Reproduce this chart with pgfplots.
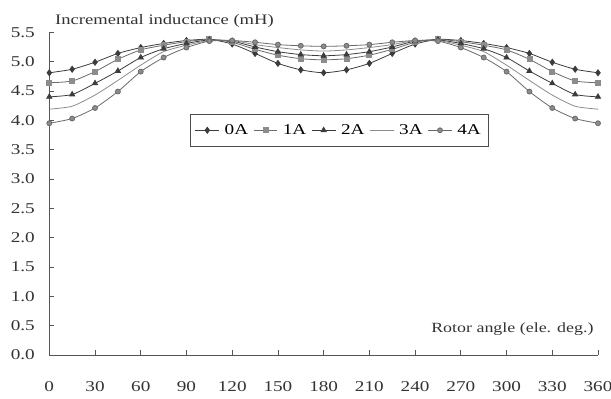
\documentclass[border=0pt]{standalone}
\usepackage{pgfplots}
\pgfplotsset{compat=1.18}
\usepackage{pgfplotstable}
\usepackage{fontspec}
\setmainfont{Liberation Serif}[FakeStretch=1.28]
\definecolor{dk}{HTML}{3C3C3C}
\definecolor{md}{HTML}{6A6A6A}
\definecolor{lt}{HTML}{8C8C8C}
\definecolor{axc}{HTML}{555555}
\pgfplotstableread{
ang  a0   a1   a2   a3   a4
0    4.81 4.64 4.40 4.19 3.95
15   4.87 4.67 4.44 4.24 4.03
30   4.99 4.83 4.63 4.43 4.21
45   5.14 5.04 4.84 4.68 4.49
60   5.24 5.20 5.07 4.94 4.83
75   5.31 5.28 5.22 5.17 5.07
90   5.36 5.34 5.31 5.28 5.24
105  5.38 5.38 5.37 5.36 5.35
120  5.30 5.33 5.35 5.36 5.36
135  5.14 5.21 5.25 5.29 5.33
150  4.97 5.11 5.17 5.24 5.29
165  4.86 5.05 5.12 5.20 5.27
180  4.81 5.03 5.10 5.18 5.26
195  4.86 5.05 5.12 5.20 5.27
210  4.97 5.11 5.17 5.24 5.29
225  5.14 5.21 5.25 5.29 5.33
240  5.30 5.33 5.35 5.36 5.36
255  5.38 5.38 5.37 5.36 5.35
270  5.36 5.34 5.31 5.28 5.24
285  5.31 5.28 5.22 5.17 5.07
300  5.24 5.20 5.07 4.94 4.83
315  5.14 5.04 4.84 4.68 4.49
330  4.99 4.83 4.63 4.43 4.21
345  4.87 4.67 4.44 4.24 4.03
360  4.81 4.64 4.40 4.19 3.95
}\data
\begin{document}
\begin{tikzpicture}
\begin{axis}[
  scale only axis,
  width=548.7pt, height=322.7pt,
  xmin=0, xmax=360, ymin=0, ymax=5.5,
  axis lines*=left,
  axis line style={axc, line width=0.8pt},
  xtick={0,30,...,360},
  ytick={0,0.5,...,5.5},
  yticklabel style={/pgf/number format/fixed,/pgf/number format/fixed zerofill,/pgf/number format/precision=1, xshift=-11pt},
  xticklabel style={yshift=-23pt},
  /pgf/number format/assume math mode=true,
  tick align=inside,
  major tick length=5pt,
  tick style={axc, line width=0.7pt},
  ticklabel style={font=\fontsize{15}{17}\selectfont, text=black!80},
  clip=false,
  legend style={at={(axis cs:190,3.83)}, anchor=center, draw=black!70, line width=0.6pt, fill=white,
    font=\fontsize{15}{17}\selectfont, column sep=3pt, inner xsep=5pt, inner ysep=8pt},
  legend columns=5,
  legend image code/.code={\draw[mark repeat=2,mark phase=2] plot coordinates {(0cm,0cm) (0.42cm,0cm) (0.84cm,0cm)};},
  every axis plot/.append style={smooth, tension=0.4, line width=0.8pt},
]
\addplot[dk, mark=diamond*, mark size=3pt, mark options={fill=dk}] table[x=ang,y=a0]{\data};
\addlegendentry{0A}
\addplot[md, mark=square*, mark size=2.5pt, mark options={fill=lt, draw=lt}] table[x=ang,y=a1]{\data};
\addlegendentry{1A}
\addplot[dk, mark=triangle*, mark size=3pt, mark options={fill=dk}] table[x=ang,y=a2]{\data};
\addlegendentry{2A}
\addplot[lt, no markers] table[x=ang,y=a3]{\data};
\addlegendentry{3A}
\addplot[md, mark=*, mark size=2.5pt, mark options={fill=lt, draw=md}] table[x=ang,y=a4]{\data};
\addlegendentry{4A}
\node[anchor=base west, font=\fontsize{14.5}{17}\selectfont, text=black!80] at (rel axis cs:0,1) [yshift=7.3pt, xshift=2.4pt] {Incremental inductance (mH)};
\node[anchor=base east, font=\fontsize{14}{17}\selectfont, text=black!80] at (axis cs:360,0.39) [xshift=-1pt] {Rotor angle (ele. deg.)};
\end{axis}
\pgfresetboundingbox
\path[use as bounding box] ([shift={(-49.3pt,-43pt)}]current axis.south west) rectangle ([shift={(13pt,32.3pt)}]current axis.north east);
\end{tikzpicture}
\end{document}
